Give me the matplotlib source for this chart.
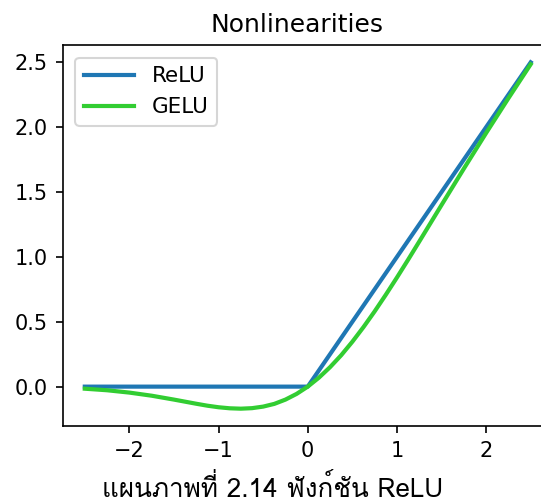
import matplotlib
matplotlib.use('Agg')
import matplotlib.pyplot as plt
from matplotlib import font_manager
from matplotlib.ft2font import FT2Font

# ReLU corner points
relu_x = [-2.5, 0.0, 2.5]
relu_y = [0.0, 0.0, 2.5]

# GELU values
gelu_x = [-2.5, -2.25, -2.0, -1.75, -1.5, -1.25, -1.125, -1.0, -0.875, -0.75,
          -0.625, -0.5, -0.375, -0.25, -0.125, 0.0, 0.125, 0.25, 0.375, 0.5,
          0.625, 0.75, 0.875, 1.0, 1.125, 1.25, 1.5, 1.75, 2.0, 2.25, 2.5]
gelu_y = [-0.016, -0.028, -0.046, -0.070, -0.100, -0.132, -0.147, -0.159, -0.167, -0.170,
          -0.166, -0.154, -0.133, -0.100, -0.056, 0.0, 0.069, 0.150, 0.242, 0.346,
          0.459, 0.580, 0.708, 0.841, 0.978, 1.118, 1.400, 1.680, 1.955, 2.223, 2.485]

caption = 'แผนภาพที่ 2.14 ฟังก์ชัน ReLU'


def find_thai_font():
    # pick any installed font that has Thai glyphs
    for f in font_manager.fontManager.ttflist:
        try:
            cmap = FT2Font(f.fname).get_charmap()
        except Exception:
            continue
        if 0x0E41 in cmap and 0x0E1C in cmap:
            return f.name
    return None


thai = find_thai_font()
cap_family = [thai, 'DejaVu Sans'] if thai else ['DejaVu Sans']

fig = plt.figure(figsize=(541 / 150, 499 / 150), dpi=150)
ax = fig.add_axes([62.5 / 541, 1 - 426 / 499, 490.5 / 541, 381 / 499])

ax.plot(relu_x, relu_y, color='#1f77b4', lw=2, label='ReLU')
ax.plot(gelu_x, gelu_y, color='#32cd32', lw=2, label='GELU')
ax.legend(loc='upper left', handlelength=2.35, borderaxespad=0.6,
          prop={'size': 10.3})
ax.set_title('Nonlinearities', x=0.4775)

fig.text(0.503, 0.004, caption, ha='center', va='baseline',
         fontsize=12.5, family=cap_family)

fig.savefig('out.png', dpi=150)
